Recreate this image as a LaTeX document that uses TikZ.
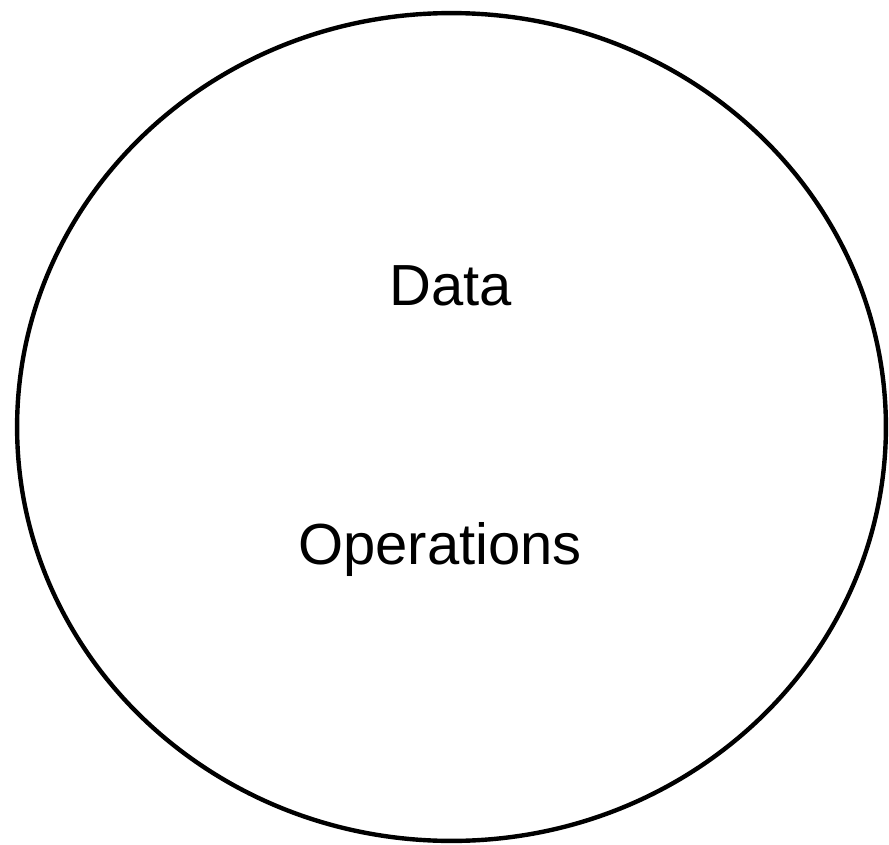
\documentclass[tikz,border=0pt]{standalone}
\usepackage{fontspec}
\setmainfont{Liberation Sans}
\usetikzlibrary{shapes.geometric,positioning}

\begin{document}
\begin{tikzpicture}[x=0.02cm,y=-0.02cm]
\tikzstyle{outline}=[ellipse, draw=black, line width=2.5pt, minimum width=17.38cm, minimum height=16.56cm, inner sep=0pt]
\tikzstyle{word}=[anchor=base, inner sep=0pt, font=\fontsize{33}{36}\selectfont]
\useasboundingbox (0,0) rectangle (889,845);
	\node[outline] (adt) at (451.5,427) {};
	\node[word] (data) at (451,305) {Data};
	\node[word] (ops) at (440,564) {Operations};
\end{tikzpicture}
\end{document}
